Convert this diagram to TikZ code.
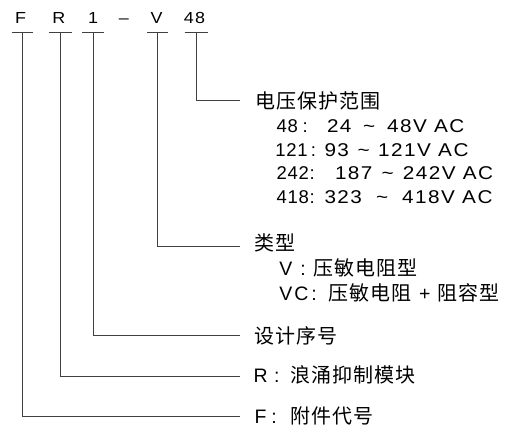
\documentclass[tikz,border=0pt]{standalone}
\usepackage{fontspec}
\setmainfont{Liberation Sans}
\newfontfamily\rng{Liberation Sans}[LetterSpace=8,FakeStretch=1.12]
\newfontfamily\num{Liberation Sans}[LetterSpace=4]
\newfontfamily\lab{Liberation Sans}[LetterSpace=10]
\newfontfamily\zh{Noto Sans CJK SC}[Scale=1.026,LetterSpace=5]
\newcommand\segs[3]{\rlap{#1}\hspace{#2pt}\rlap{:}\hspace{#3pt}}
\newcommand\rangeline[6]{{\num\segs{#1}{#2}{#3}}\makebox[#4pt][l]{\rng #5\hfill\textasciitilde\hfill #6V AC}}
\begin{document}
\begin{tikzpicture}[x=1pt,y=-1pt,
  rngtxt/.style={inner sep=0pt,anchor=base west,font=\fontsize{18.5}{21}\selectfont\rng,text=black},
  labtxt/.style={inner sep=0pt,anchor=base west,font=\fontsize{19.5}{22}\selectfont\lab,text=black},
  top/.style={inner sep=0pt,anchor=base,font=\fontsize{16}{19}\selectfont\rng,text=black},
  conn/.style={draw=black!75,line width=0.9pt},
  uline/.style={draw=black!75,line width=0.9pt}]
\useasboundingbox (0,0) rectangle (506,430);
% top code letters
\node[top] (tF) at (20.5,24) {F};
\node[top] (tR) at (58.8,24) {R};
\node[top] (t1) at (93,24) {1};
\node[top] (td) at (123.8,24) {–};
\node[top] (tV) at (156.7,24) {V};
\node[top] (t48) at (194.5,24) {48};
% underline anchors
\coordinate (uF) at (22.3,32.3);
\coordinate (uR) at (60.3,32.3);
\coordinate (u1) at (93.3,32.3);
\coordinate (uV) at (157.3,32.3);
\coordinate (u48) at (196,32.3);
\foreach \c/\w in {uF/10.5,uR/11.5,u1/11,uV/10.5,u48/11.5}
  \draw[uline] ([xshift=-\w pt]\c) -- ([xshift=\w pt]\c);
% connector ends
\coordinate (e48) at (240,100.7);
\coordinate (eV) at (240,246.7);
\coordinate (e1) at (240,335);
\coordinate (eR) at (240,376);
\coordinate (eF) at (240,416.7);
\draw[conn] (u48) |- (e48);
\draw[conn] (uV) |- (eV);
\draw[conn] (u1) |- (e1);
\draw[conn] (uR) |- (eR);
\draw[conn] (uF) |- (eF);
% labels
\node[labtxt] (l48) at (254.8,108.1) {\zh 电压保护范围};
\node[rngtxt] (l48a) at (276.3,132.8) {\rangeline{48}{26.1}{24.4}{137.4}{24}{48}};
\node[rngtxt] (l48b) at (275.2,156.4) {\rangeline{121}{35.5}{13.6}{144}{93}{121}};
\node[rngtxt] (l48c) at (276.3,180) {\rangeline{242}{33.1}{25.4}{158.2}{187}{242}};
\node[rngtxt] (l48d) at (276.3,203.6) {\rangeline{418}{33.1}{14.9}{168}{323}{418}};
\node[labtxt] (lV) at (253.8,250.6) {\zh 类型};
\node[labtxt] (lVa) at (279.2,275.4) {\segs{V}{21}{13.4}{\zh 压敏电阻型}};
\node[labtxt] (lVb) at (279.2,300.2) {\segs{VC}{32}{17.4}{\zh 压敏电阻} + {\zh 阻容型}};
\node[labtxt] (l1) at (253.8,343.4) {\zh 设计序号};
\node[labtxt] (lR) at (253.4,382.6) {\segs{R}{20.5}{16.3}{\zh 浪涌抑制模块}};
\node[labtxt] (lF) at (254.4,423.3) {\segs{F}{16.8}{19.5}{\zh 附件代号}};
\end{tikzpicture}
\end{document}
